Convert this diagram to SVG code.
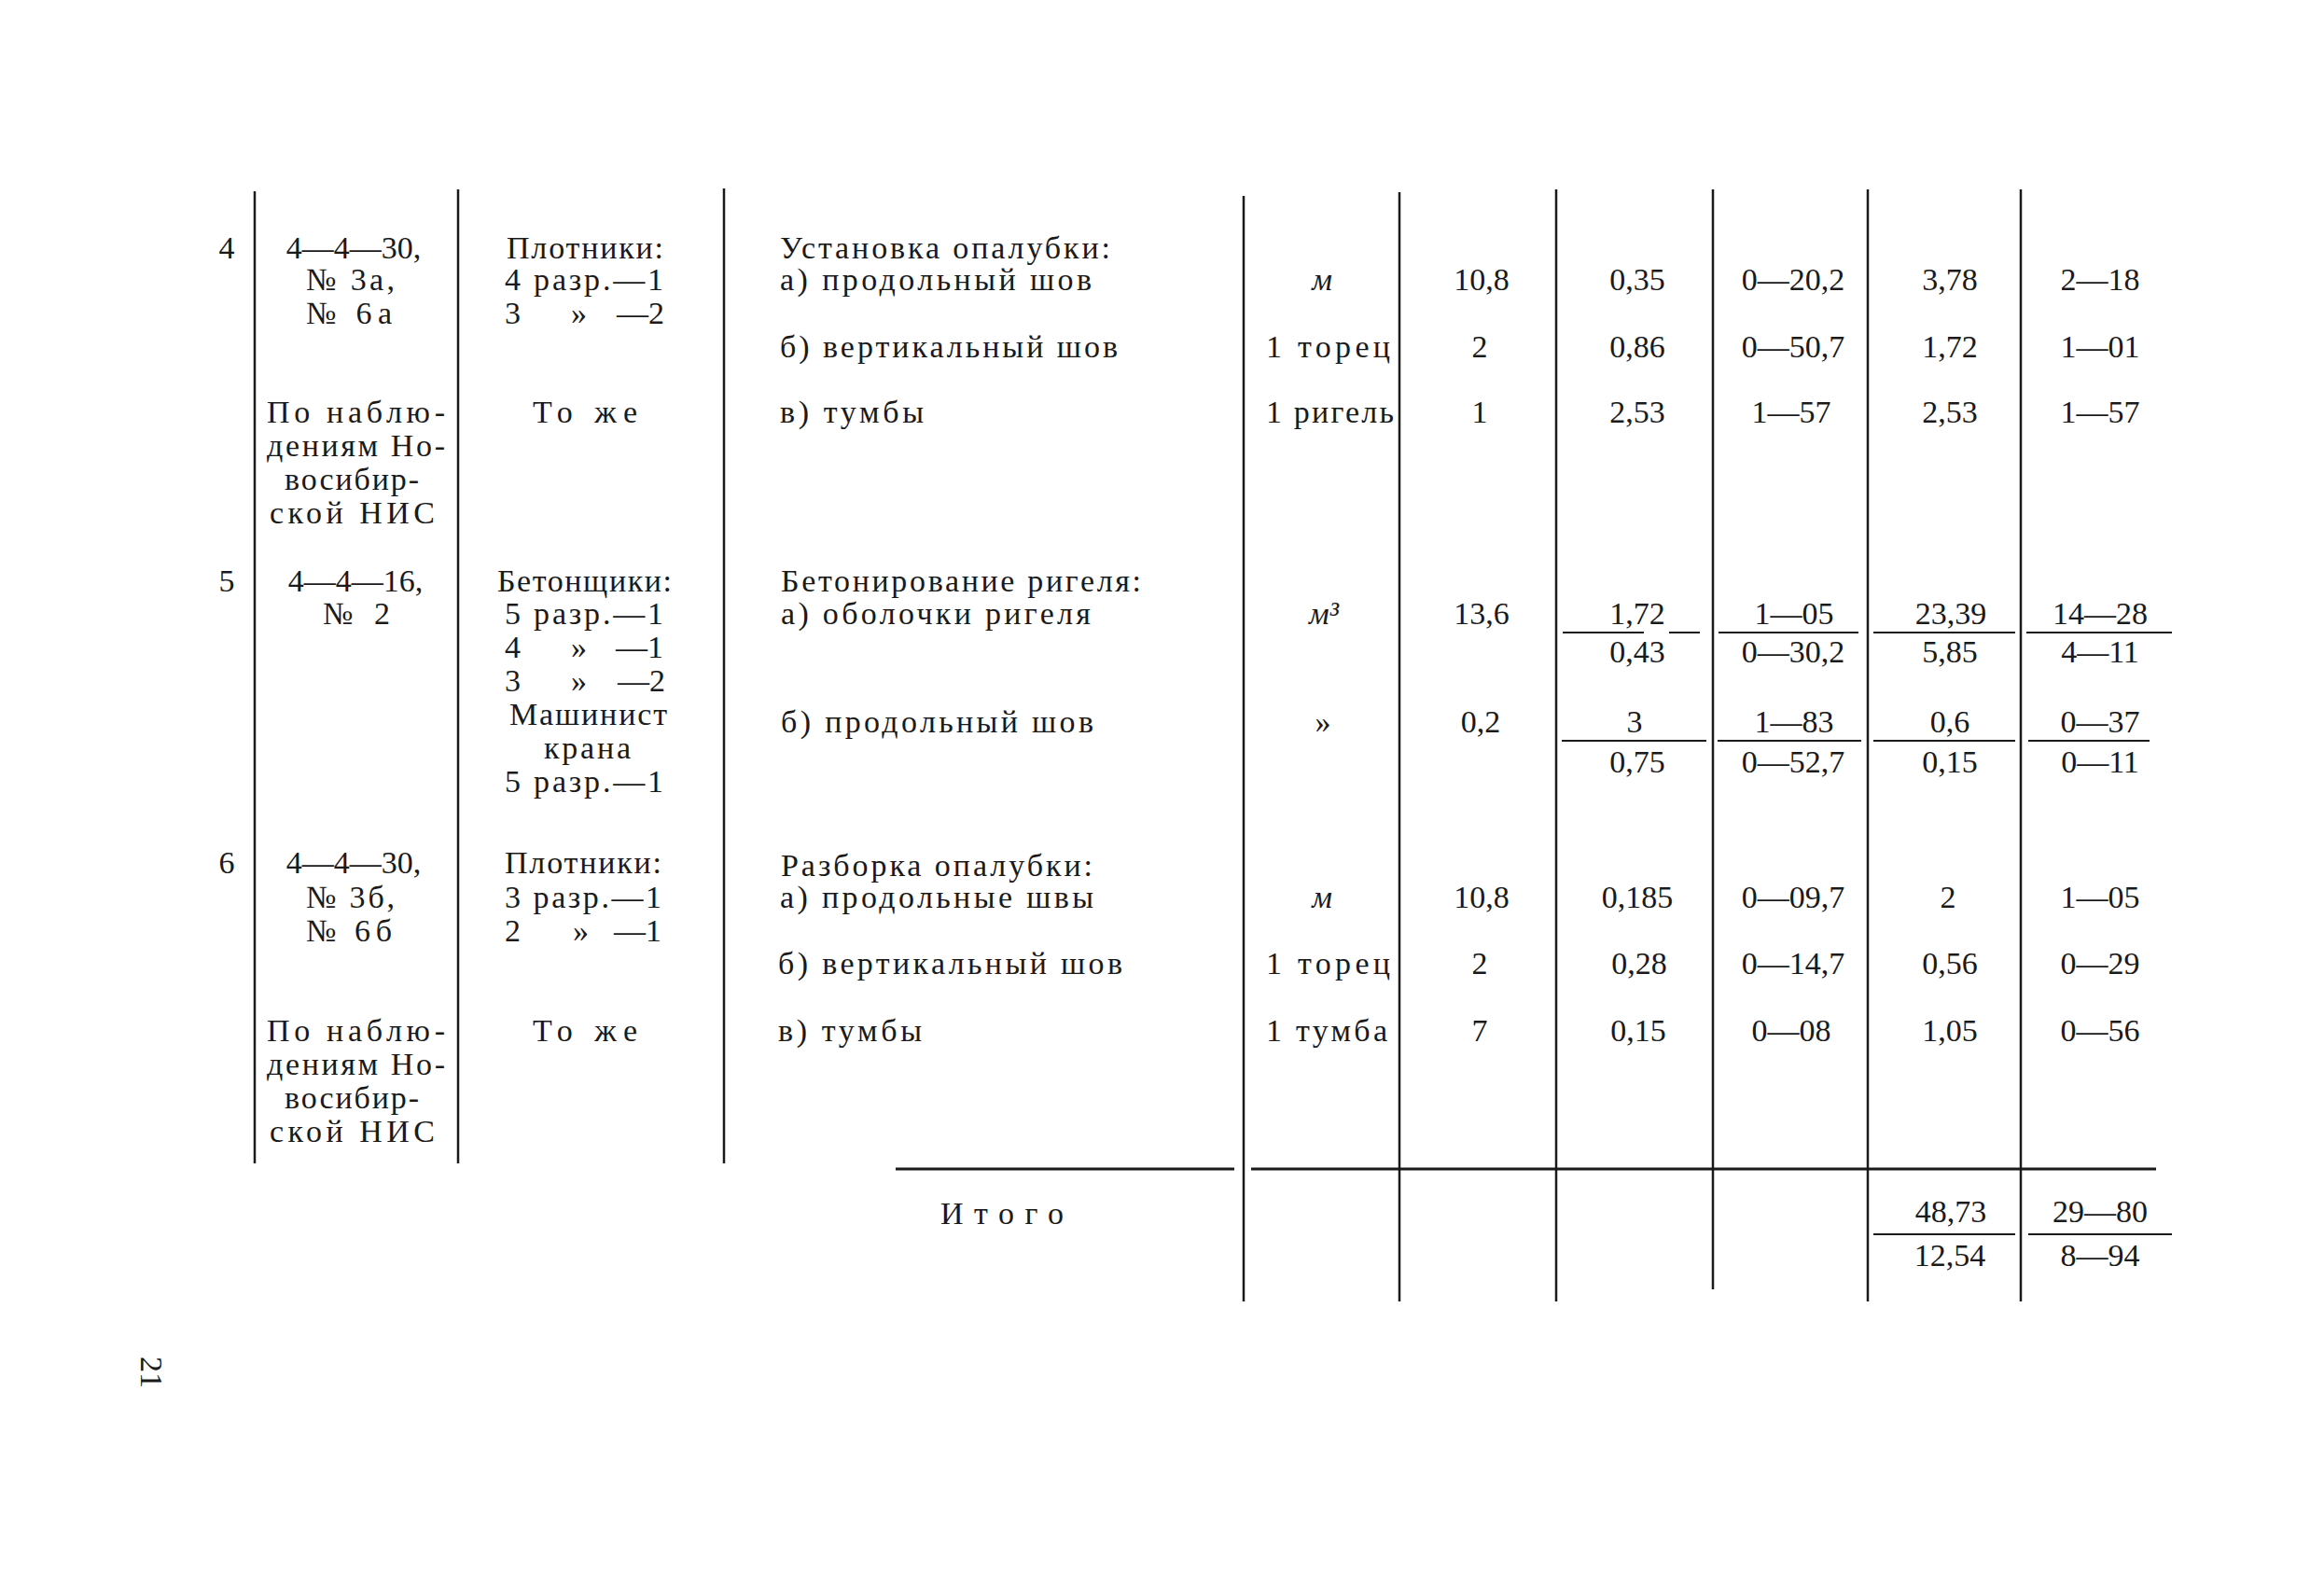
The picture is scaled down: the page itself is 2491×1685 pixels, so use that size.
<svg xmlns="http://www.w3.org/2000/svg" width="2491" height="1685" viewBox="0 0 2491 1685">
<style>
.t{font-family:"Liberation Serif","DejaVu Serif",serif;font-size:34px;fill:#1a1a1a}
.c{text-anchor:middle}
.e{text-anchor:end}
.i{font-style:italic}
.ln{stroke:#1a1a1a;stroke-width:2.5;fill:none}
.fr{stroke:#1a1a1a;stroke-width:2.2;fill:none}
</style>
<rect width="2491" height="1685" fill="#ffffff"/>
<g id="grid" class="ln">
<line x1="273" y1="205" x2="273" y2="1247"/>
<line x1="491" y1="203" x2="491" y2="1247"/>
<line x1="776" y1="202" x2="776" y2="1247"/>
<line x1="1333" y1="210" x2="1333" y2="1395"/>
<line x1="1500" y1="206" x2="1500" y2="1395"/>
<line x1="1668" y1="203" x2="1668" y2="1395"/>
<line x1="1836" y1="203" x2="1836" y2="1382"/>
<line x1="2002" y1="203" x2="2002" y2="1395"/>
<line x1="2166" y1="203" x2="2166" y2="1395"/>
<line x1="960" y1="1253" x2="1323" y2="1253" stroke-width="3"/>
<line x1="1341" y1="1253" x2="2311" y2="1253" stroke-width="3"/>
</g>
<g id="fractions" class="fr">
<line x1="1675" y1="678" x2="1762" y2="678"/>
<line x1="1789" y1="678" x2="1822" y2="678"/>
<line x1="1842" y1="678" x2="1992" y2="678"/>
<line x1="2008" y1="678" x2="2160" y2="678"/>
<line x1="2172" y1="678" x2="2328" y2="678"/>
<line x1="1674" y1="794" x2="1829" y2="794"/>
<line x1="1841" y1="794" x2="1995" y2="794"/>
<line x1="2008" y1="794" x2="2160" y2="794"/>
<line x1="2174" y1="794" x2="2304" y2="794"/>
<line x1="2008" y1="1323" x2="2160" y2="1323"/>
<line x1="2174" y1="1323" x2="2328" y2="1323"/>
</g>
<g id="row4" class="t">
<text x="243" y="277" class="c">4</text>
<text x="379" y="277" class="c">4—4—30,</text>
<text x="328" y="311" textLength="95" lengthAdjust="spacing">№ 3а,</text>
<text x="328" y="347" textLength="92" lengthAdjust="spacing">№ 6а</text>
<text x="286" y="453" textLength="191" lengthAdjust="spacing">По наблю-</text>
<text x="286" y="489" textLength="191" lengthAdjust="spacing">дениям Но-</text>
<text x="305" y="525" textLength="144" lengthAdjust="spacing">восибир-</text>
<text x="289" y="561" textLength="177" lengthAdjust="spacing">ской НИС</text>
<text x="543" y="277" textLength="168" lengthAdjust="spacing">Плотники:</text>
<text x="541" y="311" textLength="170" lengthAdjust="spacing">4 разр.—1</text>
<text x="541" y="347">3</text><text x="612" y="347">»</text><text x="712" y="347" class="e">—2</text>
<text x="571" y="453" textLength="112" lengthAdjust="spacing">То же</text>
<text x="836" y="277" textLength="354" lengthAdjust="spacing">Установка опалубки:</text>
<text x="836" y="311" textLength="334" lengthAdjust="spacing">а) продольный шов</text>
<text x="836" y="383" textLength="362" lengthAdjust="spacing">б) вертикальный шов</text>
<text x="836" y="453" textLength="154" lengthAdjust="spacing">в) тумбы</text>
<text x="1417" y="311" class="c i">м</text>
<text x="1357" y="383" textLength="133" lengthAdjust="spacing">1 торец</text>
<text x="1357" y="453" textLength="137" lengthAdjust="spacing">1 ригель</text>
<text x="1588" y="311" class="c">10,8</text>
<text x="1586" y="383" class="c">2</text>
<text x="1586" y="453" class="c">1</text>
<text x="1755" y="311" class="c">0,35</text>
<text x="1755" y="383" class="c">0,86</text>
<text x="1755" y="453" class="c">2,53</text>
<text x="1922" y="311" class="c">0—20,2</text>
<text x="1922" y="383" class="c">0—50,7</text>
<text x="1920" y="453" class="c">1—57</text>
<text x="2090" y="311" class="c">3,78</text>
<text x="2090" y="383" class="c">1,72</text>
<text x="2090" y="453" class="c">2,53</text>
<text x="2251" y="311" class="c">2—18</text>
<text x="2251" y="383" class="c">1—01</text>
<text x="2251" y="453" class="c">1—57</text>
</g>
<g id="row5" class="t">
<text x="243" y="634" class="c">5</text>
<text x="381" y="634" class="c">4—4—16,</text>
<text x="346" y="669" textLength="72" lengthAdjust="spacing">№ 2</text>
<text x="533" y="634" textLength="187" lengthAdjust="spacing">Бетонщики:</text>
<text x="541" y="669" textLength="170" lengthAdjust="spacing">5 разр.—1</text>
<text x="541" y="705">4</text><text x="612" y="705">»</text><text x="711" y="705" class="e">—1</text>
<text x="541" y="741">3</text><text x="612" y="741">»</text><text x="713" y="741" class="e">—2</text>
<text x="546" y="777" textLength="169" lengthAdjust="spacing">Машинист</text>
<text x="583" y="813" textLength="93" lengthAdjust="spacing">крана</text>
<text x="541" y="849" textLength="170" lengthAdjust="spacing">5 разр.—1</text>
<text x="837" y="634" textLength="386" lengthAdjust="spacing">Бетонирование ригеля:</text>
<text x="837" y="669" textLength="332" lengthAdjust="spacing">а) оболочки ригеля</text>
<text x="837" y="785" textLength="335" lengthAdjust="spacing">б) продольный шов</text>
<text x="1419" y="669" class="c i">м³</text>
<text x="1418" y="785" class="c">»</text>
<text x="1588" y="669" class="c">13,6</text>
<text x="1587" y="785" class="c">0,2</text>
<text x="1755" y="669" class="c">1,72</text>
<text x="1755" y="710" class="c">0,43</text>
<text x="1752" y="785" class="c">3</text>
<text x="1755" y="828" class="c">0,75</text>
<text x="1923" y="669" class="c">1—05</text>
<text x="1922" y="710" class="c">0—30,2</text>
<text x="1923" y="785" class="c">1—83</text>
<text x="1922" y="828" class="c">0—52,7</text>
<text x="2091" y="669" class="c">23,39</text>
<text x="2090" y="710" class="c">5,85</text>
<text x="2090" y="785" class="c">0,6</text>
<text x="2090" y="828" class="c">0,15</text>
<text x="2251" y="669" class="c">14—28</text>
<text x="2251" y="710" class="c">4—11</text>
<text x="2251" y="785" class="c">0—37</text>
<text x="2251" y="828" class="c">0—11</text>
</g>
<g id="row6" class="t">
<text x="243" y="936" class="c">6</text>
<text x="379" y="936" class="c">4—4—30,</text>
<text x="328" y="973" textLength="95" lengthAdjust="spacing">№ 3б,</text>
<text x="328" y="1009" textLength="92" lengthAdjust="spacing">№ 6б</text>
<text x="286" y="1116" textLength="191" lengthAdjust="spacing">По наблю-</text>
<text x="286" y="1152" textLength="191" lengthAdjust="spacing">дениям Но-</text>
<text x="305" y="1188" textLength="144" lengthAdjust="spacing">восибир-</text>
<text x="289" y="1224" textLength="177" lengthAdjust="spacing">ской НИС</text>
<text x="541" y="936" textLength="168" lengthAdjust="spacing">Плотники:</text>
<text x="541" y="973" textLength="168" lengthAdjust="spacing">3 разр.—1</text>
<text x="541" y="1009">2</text><text x="614" y="1009">»</text><text x="709" y="1009" class="e">—1</text>
<text x="571" y="1116" textLength="112" lengthAdjust="spacing">То же</text>
<text x="837" y="939" textLength="334" lengthAdjust="spacing">Разборка опалубки:</text>
<text x="836" y="973" textLength="336" lengthAdjust="spacing">а) продольные швы</text>
<text x="834" y="1044" textLength="369" lengthAdjust="spacing">б) вертикальный шов</text>
<text x="834" y="1116" textLength="154" lengthAdjust="spacing">в) тумбы</text>
<text x="1417" y="973" class="c i">м</text>
<text x="1357" y="1044" textLength="133" lengthAdjust="spacing">1 торец</text>
<text x="1357" y="1116" textLength="130" lengthAdjust="spacing">1 тумба</text>
<text x="1588" y="973" class="c">10,8</text>
<text x="1586" y="1044" class="c">2</text>
<text x="1586" y="1116" class="c">7</text>
<text x="1755" y="973" class="c">0,185</text>
<text x="1757" y="1044" class="c">0,28</text>
<text x="1756" y="1116" class="c">0,15</text>
<text x="1922" y="973" class="c">0—09,7</text>
<text x="1922" y="1044" class="c">0—14,7</text>
<text x="1920" y="1116" class="c">0—08</text>
<text x="2088" y="973" class="c">2</text>
<text x="2090" y="1044" class="c">0,56</text>
<text x="2090" y="1116" class="c">1,05</text>
<text x="2251" y="973" class="c">1—05</text>
<text x="2251" y="1044" class="c">0—29</text>
<text x="2251" y="1116" class="c">0—56</text>
</g>
<g id="total" class="t">
<text x="1008" y="1312" textLength="132" lengthAdjust="spacing">Итого</text>
<text x="2091" y="1310" class="c">48,73</text>
<text x="2090" y="1357" class="c">12,54</text>
<text x="2251" y="1310" class="c">29—80</text>
<text x="2251" y="1357" class="c">8—94</text>
</g>
<g id="page-number" class="t">
<text x="163" y="1471" class="c" transform="rotate(90 163 1471)" dy="12">21</text>
</g>
</svg>
